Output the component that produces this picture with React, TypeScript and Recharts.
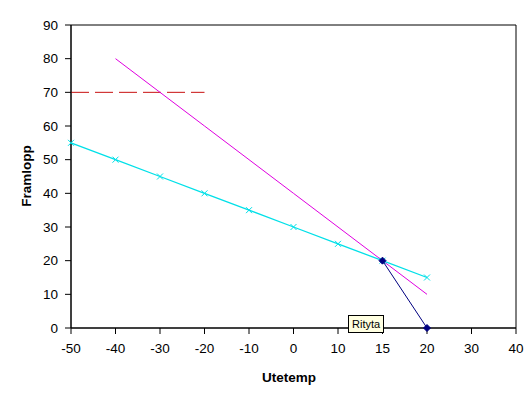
import React from 'react';
import { LineChart, Line, XAxis, YAxis, ReferenceArea } from 'recharts';

// Utetemp categories (Excel category axis, equally spaced)
const categories = ['-50', '-40', '-30', '-20', '-10', '0', '10', '15', '20', '30', '40'];
const cyanSeries = [55, 50, 45, 40, 35, 30, 25, 20, 15, null, null];
const magentaSeries = [null, 80, 70, 60, 50, 40, 30, 20, 10, null, null];
const redSeries = [70, 70, 70, 70, null, null, null, null, null, null, null];
const blueSeries = [null, null, null, null, null, null, null, 20, 0, null, null];
const yTicks = [0, 10, 20, 30, 40, 50, 60, 70, 80, 90];

const data = categories.map((c, i) => ({
  name: c,
  cyan: cyanSeries[i],
  magenta: magentaSeries[i],
  red: redSeries[i],
  blue: blueSeries[i],
}));

const font = '"Liberation Sans", Arial, sans-serif';

const CrossDot = (props: any) => {
  const { cx, cy, value } = props;
  if (value == null || cx == null) return null;
  const s = 3;
  return (
    <path
      d={`M${cx - s},${cy - s}L${cx + s},${cy + s}M${cx - s},${cy + s}L${cx + s},${cy - s}`}
      stroke="#00e0e8"
      strokeWidth={1}
    />
  );
};

const DiamondDot = (props: any) => {
  const { cx, cy, value } = props;
  if (value == null || cx == null) return null;
  const s = 3.5;
  return (
    <path
      d={`M${cx},${cy - s}L${cx + s},${cy}L${cx},${cy + s}L${cx - s},${cy}Z`}
      fill="#000080"
      stroke="#000080"
    />
  );
};

const tickStyle = { fontFamily: font, fontSize: 13.5, fill: '#000' };

export default function App() {
  return (
    <div style={{ position: 'absolute', left: 0, top: 0, width: 531, height: 393, background: '#fff' }}>
      <LineChart
        width={531}
        height={393}
        data={data}
        margin={{ top: 25, right: 15, left: 11, bottom: 35 }}
      >
        <ReferenceArea x1="-50" x2="40" y1={0} y2={90} fill="none" stroke="#000" strokeWidth={1} />
        <XAxis
          dataKey="name"
          interval={0}
          tick={tickStyle}
          tickSize={6}
          tickMargin={9}
          axisLine={{ stroke: '#000' }}
          tickLine={{ stroke: '#000' }}
          label={(p: any) => (
            <text x={289} y={382} textAnchor="middle" fontFamily={font} fontSize={13.5} fontWeight="bold" fill="#000">
              Utetemp
            </text>
          )}
        />
        <YAxis
          domain={[0, 90]}
          ticks={yTicks}
          interval={0}
          width={60}
          tick={tickStyle}
          tickSize={6}
          tickMargin={7}
          axisLine={{ stroke: '#000' }}
          tickLine={{ stroke: '#000' }}
          label={(p: any) => (
            <text
              x={31}
              y={176}
              transform="rotate(-90 31 176)"
              textAnchor="middle"
              fontFamily={font}
              fontSize={13.5}
              fontWeight="bold"
              fill="#000"
            >
              Framlopp
            </text>
          )}
        />
        <Line
          dataKey="red"
          stroke="#c81010"
          strokeWidth={1}
          strokeDasharray="18 6"
          dot={false}
          isAnimationActive={false}
        />
        <Line dataKey="magenta" stroke="#e000e0" strokeWidth={1} dot={false} isAnimationActive={false} />
        <Line dataKey="cyan" stroke="#00e0e8" strokeWidth={1.3} dot={<CrossDot />} isAnimationActive={false} />
        <Line dataKey="blue" stroke="#000080" strokeWidth={1} dot={<DiamondDot />} isAnimationActive={false} />
      </LineChart>
      <div
        style={{
          position: 'absolute',
          left: 348,
          top: 315,
          padding: '1px 3px',
          background: '#ffffe1',
          border: '1px solid #000',
          fontFamily: font,
          fontSize: 11,
          lineHeight: '14px',
        }}
      >
        Rityta
      </div>
    </div>
  );
}
